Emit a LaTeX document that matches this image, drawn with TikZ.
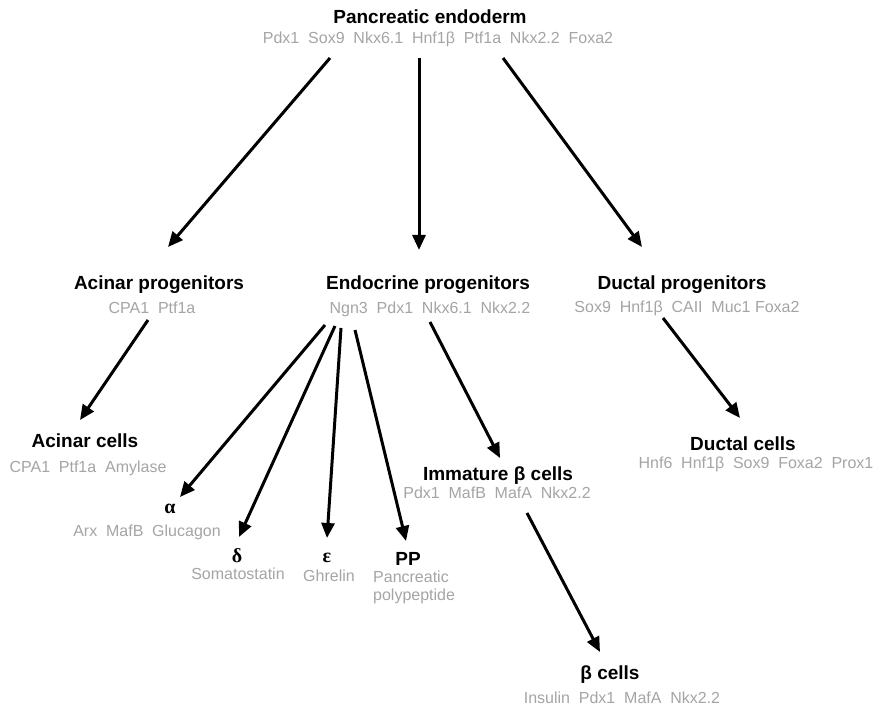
\documentclass[tikz,border=0pt]{standalone}
\usepackage{fontspec}
\setmainfont{Liberation Sans}
\newfontfamily\grk{Liberation Serif}
\usetikzlibrary{arrows.meta}
\definecolor{lg}{RGB}{165,165,165}
\newcommand{\gsp}{\hspace{0.55em}}
\tikzset{
 hd/.style={font=\fontsize{19}{19}\selectfont\bfseries, anchor=base, inner sep=0pt},
 mk/.style={font=\fontsize{16}{16}\selectfont, text=lg, anchor=base, inner sep=0pt},
 gk/.style={font=\fontsize{20}{20}\selectfont\grk\bfseries, anchor=base, inner sep=0pt},
 arr/.style={line width=3pt, -{Triangle[length=15pt,width=13pt]}},
}
\begin{document}
\begin{tikzpicture}[x=1pt,y=-1pt]
\useasboundingbox[fill=white] (0,0) rectangle (883,708);
% headings and markers
\node[hd] (pe) at (430,24) {Pancreatic endoderm};
\node[mk] (pem) at (438,44) {Pdx1\gsp Sox9\gsp Nkx6.1\gsp Hnf1β\gsp Ptf1a\gsp Nkx2.2\gsp Foxa2};
\node[hd] (ap) at (159,290) {Acinar progenitors};
\node[mk] (apm) at (152,314) {CPA1\gsp Ptf1a};
\node[hd] (ep) at (428,290) {Endocrine progenitors};
\node[mk] (epm) at (430,314) {Ngn3\gsp Pdx1\gsp Nkx6.1\gsp Nkx2.2};
\node[hd] (dp) at (682,290) {Ductal progenitors};
\node[mk] (dpm) at (687,313) {Sox9\gsp Hnf1β\gsp CAII\gsp Muc1 Foxa2};
\node[hd] (ac) at (85,447) {Acinar cells};
\node[mk] (acm) at (88,472) {CPA1\gsp Ptf1a\gsp Amylase};
\node[gk] (al) at (170,513) {α};
\node[mk] (alm) at (147,536) {Arx\gsp MafB\gsp Glucagon};
\node[gk] (de) at (237,562) {δ};
\node[mk] (dem) at (238,579) {Somatostatin};
\node[gk] (ep2) at (327,562) {ε};
\node[mk] (epm2) at (329,581) {Ghrelin};
\node[hd] (pp) at (408,565) {PP};
\node[mk, anchor=base west] (ppm1) at (373,582) {Pancreatic};
\node[mk, anchor=base west] (ppm2) at (373,600) {polypeptide};
\node[hd] (ib) at (498,480) {Immature β cells};
\node[mk] (ibm) at (497,498) {Pdx1\gsp MafB\gsp MafA\gsp Nkx2.2};
\node[hd] (bc) at (610,679) {β cells};
\node[mk] (bcm) at (622,703) {Insulin\gsp Pdx1\gsp MafA\gsp Nkx2.2};
\node[hd] (dc) at (743,450) {Ductal cells};
\node[mk] (dcm) at (756,468) {Hnf6\gsp Hnf1β\gsp Sox9\gsp Foxa2\gsp Prox1};
% arrow end points
\coordinate (s1) at (330,58);  \coordinate (t1) at (168,247);
\coordinate (s2) at (419,58);  \coordinate (t2) at (419,250);
\coordinate (s3) at (503,58);  \coordinate (t3) at (642,247);
\coordinate (s4) at (148,320); \coordinate (t4) at (80,420);
\coordinate (s5) at (325,325); \coordinate (t5) at (180,497);
\coordinate (s6) at (335,326); \coordinate (t6) at (239,537);
\coordinate (s7) at (341,328); \coordinate (t7) at (327,538);
\coordinate (s8) at (355,330); \coordinate (t8) at (406,541);
\coordinate (s9) at (430,322); \coordinate (t9) at (500,458);
\coordinate (s10) at (527,513); \coordinate (t10) at (600,652);
\coordinate (s11) at (663,318); \coordinate (t11) at (740,418);
\foreach \i in {1,...,11} \draw[arr] (s\i) -- (t\i);
\end{tikzpicture}
\end{document}
